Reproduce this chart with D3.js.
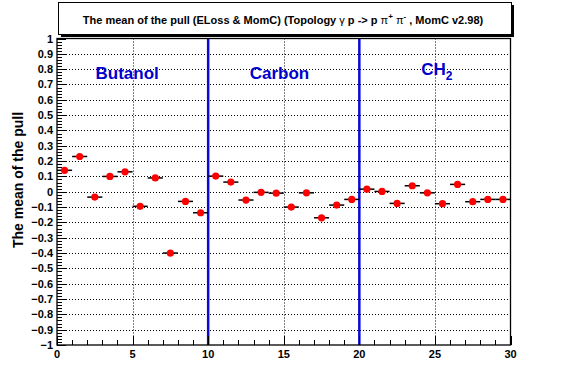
<!DOCTYPE html>
<html>
<head>
<meta charset="utf-8">
<script src="https://cdn.jsdelivr.net/npm/d3@7"></script>
<style>
  html, body { margin: 0; padding: 0; background: #fff; }
  svg { display: block; }
  text { font-family: "Liberation Sans", Arial, Helvetica, sans-serif; font-weight: bold; }
</style>
</head>
<body>
<svg id="chart" width="567" height="384"></svg>
<script>
// ---- data ----
const binEdges = [0, 30];             // x range, 30 bins of width 1
const means = [0.14, 0.23, -0.035, 0.10, 0.13, -0.095, 0.09, -0.40, -0.063, -0.137,
               0.102, 0.063, -0.054, -0.004, -0.009, -0.10, -0.007, -0.17, -0.087, -0.05,
               0.017, 0.002, -0.076, 0.039, -0.007, -0.078, 0.048, -0.065, -0.05, -0.05];
const errors = [0.010, 0.010, 0.010, 0.010, 0.010, 0.010, 0.010, 0.010, 0.010, 0.010,
                0.012, 0.012, 0.010, 0.012, 0.010, 0.010, 0.012, 0.012, 0.012, 0.012,
                0.008, 0.008, 0.008, 0.008, 0.008, 0.008, 0.008, 0.008, 0.008, 0.008];
const xTicks = [0, 5, 10, 15, 20, 25, 30];
const yTicks = [-1, -0.9, -0.8, -0.7, -0.6, -0.5, -0.4, -0.3, -0.2, -0.1, 0, 0.1, 0.2, 0.3, 0.4, 0.5, 0.6, 0.7, 0.8, 0.9, 1];
const separators = [10, 20];
const regionNames = ["Butanol", "Carbon", "CH"];
const regionSubs = ["", "", "2"];

// ---- layout ----
const svg = d3.select("#chart");
const L = 57, R = 510.5, T = 38.5, B = 345;
const x = d3.scaleLinear().domain(binEdges).range([L, R]);
const y = d3.scaleLinear().domain([-1, 1]).range([B, T]);

// title box with shadow
svg.append("rect").attr("x", 61).attr("y", 5).attr("width", 453).attr("height", 32).attr("fill", "#000");
svg.append("rect").attr("x", 58.5).attr("y", 2.5).attr("width", 453).attr("height", 32)
  .attr("fill", "#fff").attr("stroke", "#000").attr("stroke-width", 1);
const title = svg.append("text").attr("x", 283).attr("y", 24).attr("text-anchor", "middle").attr("font-size", 11);
title.append("tspan").text("The mean of the pull (ELoss & MomC) (Topology ");
title.append("tspan").attr("font-weight", "normal").text("\u03b3");
title.append("tspan").text(" p -> p ");
title.append("tspan").attr("font-weight", "normal").text("\u03c0");
title.append("tspan").attr("dy", -5).attr("font-size", 8).text("+");
title.append("tspan").attr("dy", 5).text(" ");
title.append("tspan").attr("font-weight", "normal").text("\u03c0");
title.append("tspan").attr("dy", -5).attr("font-size", 8).text("-");
title.append("tspan").attr("dy", 5).text(" , MomC v2.98)");

// frame background
svg.append("rect").attr("x", L).attr("y", T).attr("width", R - L).attr("height", B - T).attr("fill", "#fff");

// grid
const grid = svg.append("g").attr("stroke", "#000").attr("stroke-width", 1).attr("stroke-dasharray", "1,2");
grid.selectAll("line.h").data(yTicks.filter(v => v > -1 && v < 1)).join("line")
  .attr("x1", L).attr("x2", R).attr("y1", d => Math.round(y(d)) + 0.5).attr("y2", d => Math.round(y(d)) + 0.5);
grid.selectAll("line.v").data(xTicks.filter(v => v > 0 && v < 30)).join("line")
  .attr("y1", T).attr("y2", B).attr("x1", d => Math.round(x(d)) + 0.5).attr("x2", d => Math.round(x(d)) + 0.5);

// separators
svg.selectAll("line.sep").data(separators).join("line")
  .attr("x1", d => x(d)).attr("x2", d => x(d)).attr("y1", T).attr("y2", B)
  .attr("stroke", "#0a0ad8").attr("stroke-width", 2.5);

// axes ticks (inside)
const ax = svg.append("g").attr("stroke", "#000").attr("stroke-width", 1);
const yMinor = d3.range(-1, 1.0001, 0.02);
ax.selectAll("line.ym").data(yMinor).join("line")
  .attr("x1", L).attr("x2", L + 5).attr("y1", d => Math.round(y(d)) + 0.5).attr("y2", d => Math.round(y(d)) + 0.5);
ax.selectAll("line.yM").data(yTicks).join("line")
  .attr("x1", L).attr("x2", L + 9).attr("y1", d => Math.round(y(d)) + 0.5).attr("y2", d => Math.round(y(d)) + 0.5);
const xMinor = d3.range(0, 31, 1);
ax.selectAll("line.xm").data(xMinor).join("line")
  .attr("y1", B).attr("y2", B - 5).attr("x1", d => Math.round(x(d)) + 0.5).attr("x2", d => Math.round(x(d)) + 0.5);
ax.selectAll("line.xM").data(xTicks).join("line")
  .attr("y1", B).attr("y2", B - 9).attr("x1", d => Math.round(x(d)) + 0.5).attr("x2", d => Math.round(x(d)) + 0.5);

// frame
svg.append("rect").attr("x", L).attr("y", T).attr("width", R - L).attr("height", B - T)
  .attr("fill", "none").attr("stroke", "#000").attr("stroke-width", 1.3);

// tick labels
svg.selectAll("text.yl").data(yTicks).join("text")
  .attr("x", 53).attr("y", d => y(d) + 4).attr("text-anchor", "end").attr("font-size", 11)
  .text(d => d3.format("")(+d.toFixed(1)));
svg.selectAll("text.xl").data(xTicks).join("text")
  .attr("x", d => x(d)).attr("y", 358).attr("text-anchor", "middle").attr("font-size", 11)
  .text(d => d);

// y axis title
svg.append("text").attr("transform", `translate(23,${180}) rotate(-90)`)
  .attr("text-anchor", "middle").attr("font-size", 14).text("The mean of the pull");

// region labels
const regionX = [2.55, 12.75, 24.1];
const regionY = [0.735, 0.735, 0.76];
regionNames.forEach((n, i) => {
  const t = svg.append("text").attr("x", x(regionX[i])).attr("y", y(regionY[i]))
    .attr("font-size", 17).attr("fill", "#0000cc").text(n);
  if (regionSubs[i]) t.append("tspan").attr("dy", 5).attr("font-size", 12).text(regionSubs[i]);
});

// data: error bars + markers
const pts = svg.append("g");
const data = means.map((m, i) => ({ i, m, e: errors[i] }));
pts.selectAll("line.ex").data(data).join("line")
  .attr("x1", d => x(d.i)).attr("x2", d => x(d.i + 1)).attr("y1", d => y(d.m)).attr("y2", d => y(d.m))
  .attr("stroke", "#000").attr("stroke-width", 1.5);
pts.selectAll("line.ey").data(data).join("line")
  .attr("x1", d => x(d.i + 0.5)).attr("x2", d => x(d.i + 0.5)).attr("y1", d => y(d.m - d.e)).attr("y2", d => y(d.m + d.e))
  .attr("stroke", "#000").attr("stroke-width", 1.5);
pts.selectAll("circle").data(data).join("circle")
  .attr("cx", d => x(d.i + 0.5)).attr("cy", d => y(d.m)).attr("r", 3.6)
  .attr("fill", "#ff0000");
</script>
</body>
</html>
